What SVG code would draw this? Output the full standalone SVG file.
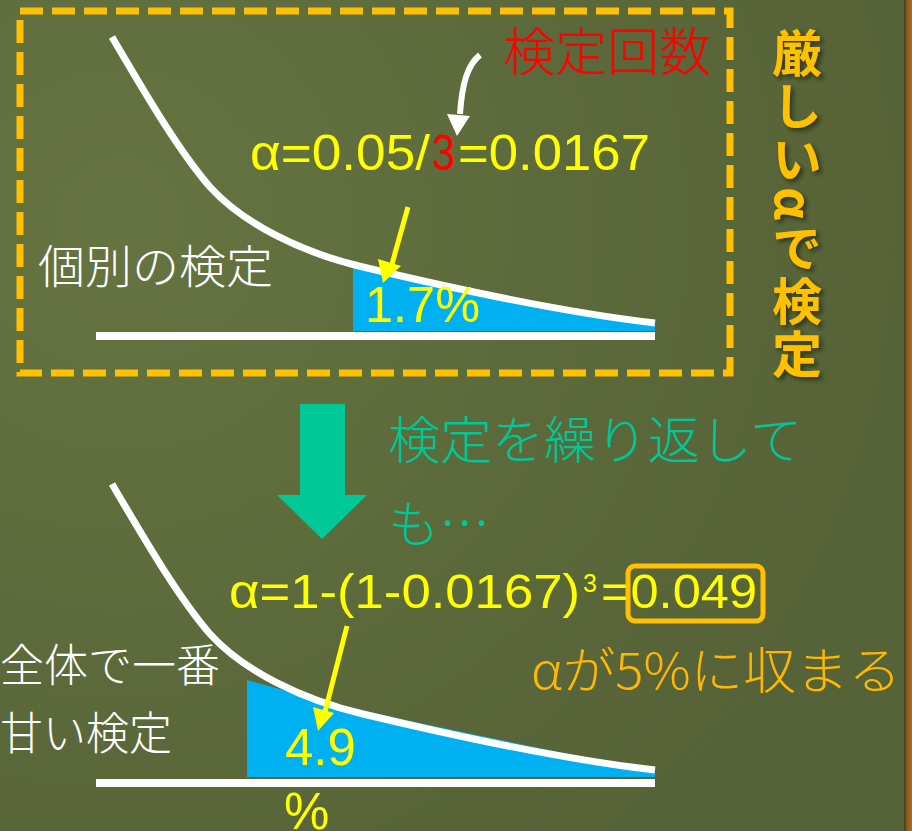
<svg xmlns="http://www.w3.org/2000/svg" width="912" height="831" viewBox="0 0 912 831">
<style>
.lat{font-family:"Liberation Sans",Arial,sans-serif}
.jp{font-family:"Noto Sans CJK JP","Noto Sans",sans-serif;font-weight:300}
.yel{fill:#ffff00}
.wht{fill:#ffffff}
.teal{fill:#00c997}
.org{fill:#ffb700}
.vert{font-family:"Noto Sans CJK JP",sans-serif;font-weight:bold;fill:#ffc000;font-size:50px;writing-mode:vertical-rl;letter-spacing:3px}
.curve{fill:none;stroke:#ffffff;stroke-width:7}
.base{stroke:#ffffff;stroke-width:8}
.tail{fill:#00b0f0}
</style>
<defs>
<radialGradient id="board" cx="120" cy="220" r="820" gradientUnits="userSpaceOnUse">
<stop offset="0" stop-color="#667441"/>
<stop offset="0.5" stop-color="#5d6a3b"/>
<stop offset="1" stop-color="#566237"/>
</radialGradient>
<linearGradient id="frame" x1="0" y1="0" x2="1" y2="0">
<stop offset="0" stop-color="#3e3a1c"/>
<stop offset="0.35" stop-color="#8b5a1c"/>
<stop offset="1" stop-color="#a66d25"/>
</linearGradient>
<filter id="shadow" x="-20%" y="-20%" width="140%" height="140%">
<feDropShadow dx="3" dy="3" stdDeviation="2" flood-color="#1e2410" flood-opacity="0.7"/>
</filter>
</defs>
<rect x="0" y="0" width="912" height="831" fill="url(#board)"/>
<rect x="904" y="0" width="8" height="831" fill="url(#frame)"/>

<g id="individual-test">
<rect x="20" y="11" width="710" height="362" fill="none" stroke="#ffc000" stroke-width="7" stroke-dasharray="23 9"/>
<path class="tail" d="M353,331 L353,264 L363,267 C430,283 560,312 655,323 L655,331 Z"/>
<path class="curve" d="M112,37 C145,93 178,150 210,187 C243.5,224 303,253 363,267 C430,283 560,312 655,323"/>
<line class="base" x1="96" y1="336" x2="655" y2="336"/>
<text class="lat yel" x="365" y="322" font-size="50" textLength="115" lengthAdjust="spacingAndGlyphs">1.7%</text>
<text class="jp wht" x="38" y="283" font-size="46" textLength="235" lengthAdjust="spacingAndGlyphs">個別の検定</text>
</g>

<g id="formula-top">
<text class="lat yel" x="250" y="170" font-size="50" textLength="180" lengthAdjust="spacingAndGlyphs">α=0.05/</text>
<text class="lat" x="432" y="170" font-size="50" fill="#ff0000" textLength="23" lengthAdjust="spacingAndGlyphs">3</text>
<text class="lat yel" x="458" y="170" font-size="50" textLength="192" lengthAdjust="spacingAndGlyphs">=0.0167</text>
</g>

<g id="label-count">
<text class="jp" x="503" y="71" font-size="52" fill="#ff0000">検定回数</text>
</g>

<g id="strict-alpha" filter="url(#shadow)">
<text class="vert" x="797" y="28">厳しいαで検定</text>
</g>

<g id="repeat-arrow">
<polygon points="300,404 345,404 345,495 367,495 322,539 277,495 300,495" fill="#00c997"/>
</g>

<g id="repeat-label">
<text class="jp teal" x="388" y="459" font-size="51" textLength="414" lengthAdjust="spacingAndGlyphs">検定を繰り返して</text>
<text class="jp teal" x="388" y="543" font-size="51">も…</text>
</g>

<g id="formula-bottom">
<text class="lat yel" x="229" y="608" font-size="49" textLength="351" lengthAdjust="spacingAndGlyphs">α=1-(1-0.0167)</text>
<text class="lat yel" x="583" y="592" font-size="25">3</text>
<text class="lat yel" x="601" y="608" font-size="49" textLength="156" lengthAdjust="spacingAndGlyphs">=0.049</text>
<rect x="628" y="566" width="135" height="55" rx="7" fill="none" stroke="#ffc000" stroke-width="5"/>
</g>

<g id="within-label">
<text class="jp org" x="531" y="689" font-size="50" textLength="370" lengthAdjust="spacingAndGlyphs">αが5%に収まる</text>
</g>

<g id="familywise-test">
<path class="tail" d="M247,777 L247,680 L320,700 C390,718 540,748 655,772 L655,777 Z"/>
<path class="curve" transform="translate(0,447)" d="M112,37 C145,93 178,150 210,187 C243.5,224 303,253 363,267 C430,283 560,312 655,323"/>
<line class="base" x1="96" y1="783" x2="655" y2="783"/>
<text class="lat yel" x="285" y="765" font-size="51">4.9</text>
<text class="lat yel" x="284" y="829" font-size="51">%</text>
<text class="jp wht" x="0" y="682" font-size="45" textLength="220" lengthAdjust="spacingAndGlyphs">全体で一番</text>
<text class="jp wht" x="0" y="750" font-size="45" textLength="172" lengthAdjust="spacingAndGlyphs">甘い検定</text>
</g>

<g id="connectors">
<line x1="408" y1="207" x2="392" y2="264" stroke="#ffff00" stroke-width="5"/>
<polygon points="378,259 401,266 383,283" fill="#ffff00"/>
<line x1="347" y1="626" x2="325" y2="712" stroke="#ffff00" stroke-width="5"/>
<polygon points="313,707 334,713 318,731" fill="#ffff00"/>
<path d="M480,55 C467,65 462,85 460,114" fill="none" stroke="#ffffff" stroke-width="6"/>
<polygon points="447,114 470,116 457,136" fill="#ffffff"/>
</g>
</svg>
